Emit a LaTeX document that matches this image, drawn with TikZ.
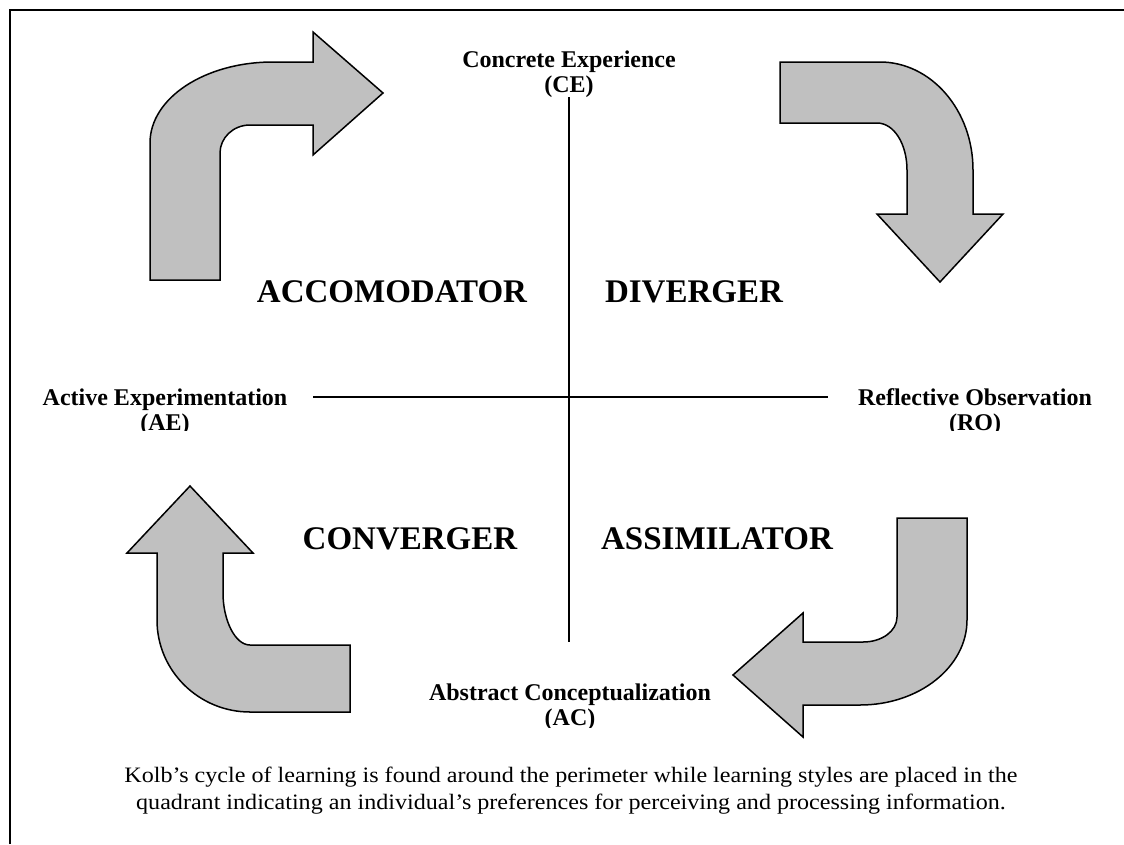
\documentclass[tikz,border=0pt]{standalone}
\usepackage{fontspec}
\setmainfont{Liberation Serif}
\newfontfamily\captionfont[FakeStretch=1.095]{Liberation Serif}
\definecolor{arrowgray}{RGB}{192,192,192}

\begin{document}
\begin{tikzpicture}[x=1pt, y=-1pt]
            \tikzstyle{every node} = [inner sep=0pt, outer sep=0pt]
            \tikzstyle{stage} = [font=\fontsize{24}{25}\selectfont\bfseries, align=center, anchor=north]
            \tikzstyle{learner} = [font=\fontsize{33}{36}\selectfont\bfseries, anchor=base]
            \tikzstyle{bigarrow} = [draw=black, line width=1.5pt, fill=arrowgray]
            \useasboundingbox (0, 0) rectangle (1124, 844);

            % frame
            \draw[line width=2pt] (10, 844) -- (10, 10) -- (1124, 10);

            % stages of the cycle
            \node[stage] (ce) at (569, 51) {Concrete Experience\\(CE)};
            \begin{scope}
                \clip (20, 370) rectangle (320, 430);
                \node[stage] (ae) at (165, 389) {Active Experimentation\\(AE)};
            \end{scope}
            \begin{scope}
                \clip (840, 370) rectangle (1110, 430);
                \node[stage] (ro) at (975, 389) {Reflective Observation\\(RO)};
            \end{scope}
            \begin{scope}
                \clip (400, 670) rectangle (740, 727);
                \node[stage] (ac) at (570, 684) {Abstract Conceptualization\\(AC)};
            \end{scope}

            % axes
            \coordinate (top) at (569, 97);
            \coordinate (bottom) at (569, 642);
            \coordinate (left) at (313, 397);
            \coordinate (right) at (828, 397);
            \draw[line width=1.5pt] (top) -- (bottom);
            \draw[line width=1.5pt] (left) -- (right);

            % learning styles
            \node[learner] (acc) at (392, 302) {ACCOMODATOR};
            \node[learner] (div) at (694, 302) {DIVERGER};
            \node[learner] (con) at (410, 549) {CONVERGER};
            \node[learner] (ass) at (717, 549) {ASSIMILATOR};

            % cycle arrows
            \draw[bigarrow] (150, 280) -- (150, 143)
                .. controls (150, 98) and (205, 62) .. (273, 62)
                -- (313, 62) -- (313, 32) -- (383, 93) -- (313, 155) -- (313, 125)
                -- (250, 125) .. controls (233, 125) and (220, 138) .. (220, 153)
                -- (220, 280) -- cycle;
            \draw[bigarrow] (780, 62) -- (880, 62)
                .. controls (931, 62) and (973, 110) .. (973, 170)
                -- (973, 214) -- (1003, 214) -- (940, 282) -- (877, 214) -- (907, 214)
                -- (907, 170) .. controls (907, 144) and (894, 123) .. (877, 123)
                -- (780, 123) -- cycle;
            \draw[bigarrow] (897, 518) -- (967, 518) -- (967, 620)
                .. controls (967, 667) and (919, 705) .. (860, 705)
                -- (803, 705) -- (803, 737) -- (733, 675) -- (803, 613) -- (803, 642)
                -- (863, 642) .. controls (882, 642) and (897, 631) .. (897, 617)
                -- cycle;
            \draw[bigarrow] (350, 712) -- (350, 645) -- (250, 645)
                .. controls (235, 645) and (223, 620) .. (223, 593)
                -- (223, 553) -- (253, 553) -- (190, 486) -- (127, 553) -- (157, 553)
                -- (157, 620) .. controls (157, 671) and (199, 712) .. (250, 712)
                -- cycle;

            % caption
            \node[font=\captionfont\fontsize{22}{27}\selectfont, align=center, anchor=north] (caption) at (571, 767)
                {Kolb’s cycle of learning is found around the perimeter while learning styles are placed in the\\
                 quadrant indicating an individual’s preferences for perceiving and processing information.};
\end{tikzpicture}
\end{document}
